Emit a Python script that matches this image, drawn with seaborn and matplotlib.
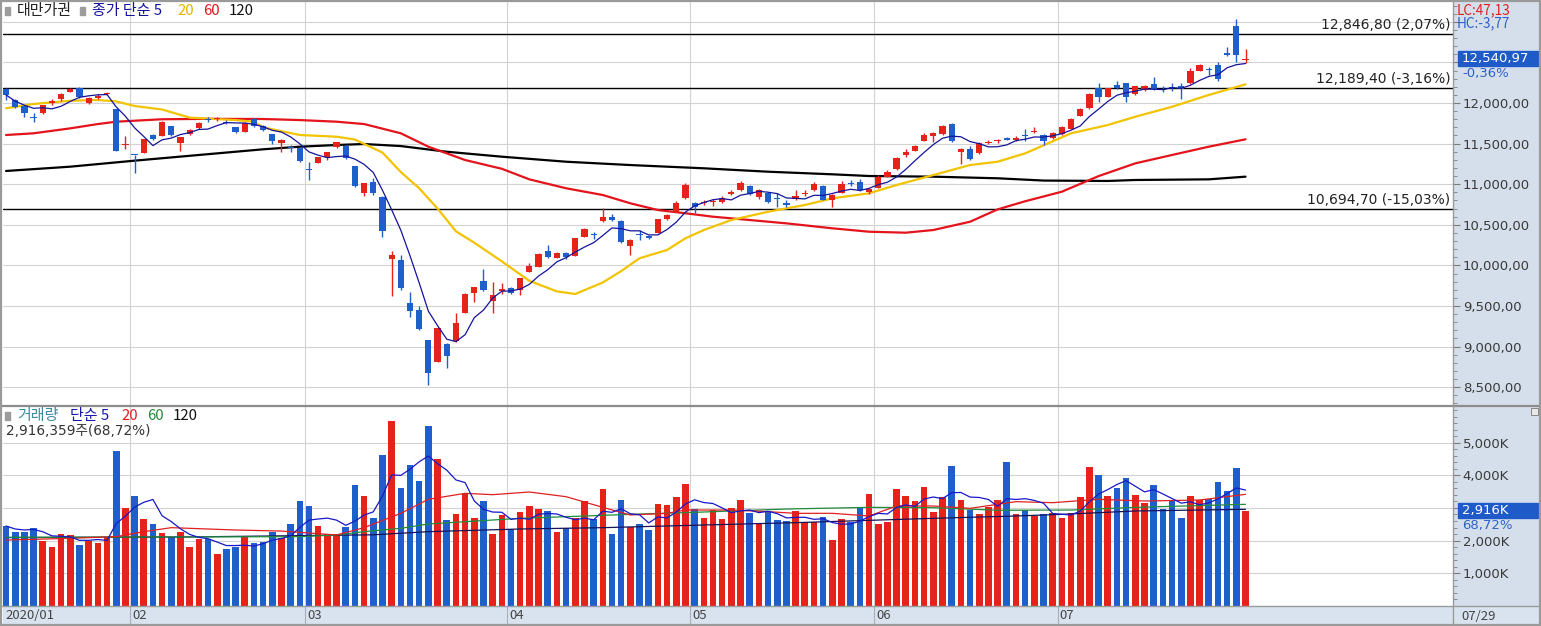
import numpy as np
import pandas as pd
import matplotlib
matplotlib.use("Agg")
import matplotlib.pyplot as plt
from matplotlib.patches import Rectangle
from matplotlib.ticker import MultipleLocator
from matplotlib.transforms import blended_transform_factory
import seaborn as sns

# ---------------- data ----------------
opens = [12169, 12037, 11963, 11830, 11881, 11996, 12046, 12139, 12181, 11996, 12058, 12107, 11926, 11480,
         11362, 11388, 11606, 11594, 11717, 11512, 11614, 11688, 11805, 11800, 11770, 11701, 11647, 11803, 11720,
         11614, 11504, 11460, 11450,
         11180, 11266, 11339, 11455, 11474, 11224, 10896, 11023, 10839, 10079, 10066, 9533, 9451, 9081, 8814,
         9032, 9073, 9418, 9664, 9812, 9566, 9690,
         9718, 9697, 9922, 9984, 10181, 10095, 10149, 10116, 10354, 10380, 10547, 10600, 10547, 10239, 10380,
         10366, 10403, 10568, 10662, 10826,
         10773, 10765, 10775, 10777, 10877, 10929, 10978, 10846, 10897, 10830, 10768, 10814, 10880, 10929, 10978,
         10805, 10897, 11020, 11031, 10900,
         10957, 11093, 11184, 11360, 11413, 11536, 11597, 11618, 11738, 11400, 11434, 11381, 11505, 11528, 11565,
         11544, 11600, 11645, 11606, 11565,
         11618, 11680, 11844, 11935, 12181, 12078, 12222, 12242, 12111, 12160, 12234, 12175, 12200, 12209, 12243,
         12399, 12420, 12468, 12619, 12948, 12530]
highs = [12181, 12050, 11975, 11881, 11980, 12045, 12120, 12185, 12195, 12075, 12110, 12140, 11930, 11594,
         11365, 11560, 11620, 11775, 11720, 11580, 11675, 11770, 11830, 11830, 11790, 11710, 11770, 11820, 11730,
         11620, 11560, 11480, 11460,
         11277, 11340, 11400, 11520, 11480, 11230, 11020, 11080, 10850, 10177, 10128, 9676, 9500, 9081, 9240,
         9040, 9410, 9660, 9740, 9952, 9799, 9780,
         9735, 9850, 10030, 10150, 10251, 10160, 10160, 10340, 10460, 10410, 10703, 10630, 10555, 10320, 10430,
         10375, 10575, 10630, 10790, 11010,
         10780, 10810, 10815, 10860, 10930, 11040, 10990, 10940, 10905, 10897, 10800, 10929, 10925, 11030, 10990,
         10880, 11040, 11050, 11060, 10955,
         11110, 11180, 11340, 11430, 11480, 11630, 11645, 11730, 11760, 11445, 11465, 11520, 11545, 11560, 11580,
         11590, 11676, 11700, 11615, 11640,
         11720, 11810, 11935, 12120, 12250, 12190, 12271, 12250, 12215, 12220, 12316, 12210, 12250, 12250, 12430,
         12480, 12440, 12500, 12694, 13031, 12661]
lows = [12037, 11940, 11824, 11770, 11870, 11975, 12030, 12130, 12060, 11990, 12050, 12095, 11405, 11430,
        11134, 11380, 11540, 11590, 11590, 11413, 11605, 11680, 11770, 11780, 11745, 11630, 11640, 11710, 11655,
        11500, 11400, 11400, 11270,
        11052, 11260, 11298, 11450, 11310, 10960, 10860, 10870, 10354, 9623, 9700, 9368, 9210, 8524, 8810,
        8740, 9060, 9410, 9553, 9690, 9410, 9650,
        9650, 9636, 9915, 9975, 10090, 10090, 10085, 10110, 10350, 10330, 10540, 10550, 10275, 10128, 10310,
        10325, 10395, 10560, 10655, 10820,
        10642, 10745, 10730, 10770, 10870, 10920, 10865, 10818, 10770, 10724, 10725, 10805, 10860, 10920, 10800,
        10716, 10890, 10980, 10920, 10880,
        10950, 11085, 11175, 11330, 11405, 11530, 11523, 11610, 11515, 11245, 11300, 11375, 11490, 11505, 11540,
        11535, 11536, 11630, 11483, 11555,
        11610, 11675, 11835, 11930, 12016, 12070, 12175, 12016, 12100, 12150, 12160, 12130, 12150, 12045, 12235,
        12390, 12350, 12270, 12585, 12509, 12489]
closes = [12099, 11947, 11873, 11820, 11972, 12028, 12107, 12172, 12070, 12066, 12090, 12122, 11413, 11495,
          11356, 11553, 11560, 11770, 11600, 11576, 11667, 11758, 11795, 11815, 11758, 11648, 11750, 11717, 11667,
          11534, 11544, 11450, 11292,
          11170, 11331, 11393, 11516, 11327, 10977, 11011, 10890, 10422, 10128, 9717, 9439, 9218, 8681, 9234,
          8890, 9285, 9644, 9731, 9698, 9631, 9708,
          9663, 9841, 9993, 10140, 10100, 10149, 10098, 10334, 10448, 10370, 10592, 10565, 10290, 10313, 10370,
          10340, 10568, 10621, 10765, 10990,
          10720, 10780, 10790, 10835, 10908, 11011, 10880, 10929, 10780, 10820, 10745, 10855, 10895, 11003, 10810,
          10867, 11003, 11005, 10930, 10941,
          11093, 11154, 11327, 11400, 11474, 11606, 11634, 11717, 11530, 11434, 11310, 11504, 11520, 11540, 11547,
          11573, 11590, 11660, 11530, 11627,
          11708, 11803, 11922, 12111, 12080, 12181, 12185, 12075, 12209, 12209, 12170, 12165, 12190, 12170, 12399,
          12468, 12410, 12300, 12595, 12586, 12540.97]
volumes_k = [2446, 2262, 2262, 2395, 1985, 1810, 2200, 2170, 1862, 1985, 1933, 2067, 4754, 3010,
             3369, 2672, 2508, 2241, 2118, 2262, 1810, 2046, 2046, 1585, 1738, 1810, 2098, 1913, 1954,
             2272, 2067, 2508, 3226,
             3062, 2446, 2200, 2200, 2426, 3708, 3369, 2703, 4631, 5687, 3626, 4323, 3841, 5523, 4508,
             2631, 2815, 3431, 2703, 3226, 2200, 2785,
             2344, 2877, 3062, 2969, 2908, 2262, 2375, 2682, 3215, 2652, 3585, 2200, 3246, 2426, 2508,
             2323, 3123, 3092, 3338, 3738,
             2969, 2703, 2938, 2662, 3000, 3246, 2846, 2529, 2877, 2631, 2600, 2908, 2559, 2559, 2723,
             2015, 2662, 2579, 2990, 3431,
             2508, 2579, 3585, 3369, 3215, 3646, 2877, 3328, 4292, 3246, 2938, 2815, 3020, 3246, 4415,
             2815, 2938, 2754, 2815, 2836,
             2692, 2836, 3338, 4271, 4015, 3369, 3626, 3923, 3400, 3164, 3708, 2969, 3215, 2692, 3369,
             3246, 3277, 3800, 3533, 4231, 2916]

# moving averages (candle index, value)
ma20_idx = [0, 3, 7, 10, 12, 14, 17, 20, 25, 27, 28, 32, 36, 38, 41, 43, 45, 47, 49, 51, 54, 57, 60, 62, 65, 67,
            69, 72, 74, 76, 79, 83, 87, 90, 94, 97, 101, 105, 108, 111, 116, 120, 123, 127, 131, 135]
ma20_val = [11935, 11988, 12028, 12037, 12020, 11963, 11920, 11820, 11790, 11770, 11700, 11606, 11585, 11550,
            11390, 11150, 10950, 10700, 10420, 10280, 10050, 9810, 9680, 9648, 9790, 9930, 10088, 10190, 10334,
            10436, 10559, 10661, 10744, 10826, 10888, 10990, 11113, 11236, 11277, 11380, 11627, 11729, 11831,
            11954, 12099, 12230]
ma60_idx = [0, 3, 7, 10, 12, 17, 22, 28, 32, 36, 39, 43, 46, 50, 54, 57, 61, 65, 68, 71, 74, 77, 81, 85, 90, 94,
            98, 101, 105, 108, 111, 115, 119, 123, 127, 131, 135]
ma60_val = [11606, 11627, 11688, 11741, 11770, 11800, 11805, 11803, 11790, 11770, 11741, 11627, 11462, 11298,
            11190, 11060, 10950, 10867, 10765, 10682, 10642, 10600, 10559, 10518, 10457, 10415, 10403, 10436,
            10538, 10690, 10790, 10908, 11100, 11257, 11360, 11462, 11553]
ma120_idx = [0, 7, 14, 21, 28, 32, 36, 39, 43, 48, 54, 61, 68, 76, 83, 90, 94, 101, 108, 113, 120, 123, 131, 135]
ma120_val = [11163, 11216, 11290, 11360, 11430, 11462, 11483, 11495, 11470, 11400, 11339, 11277, 11236, 11196,
             11154, 11122, 11101, 11093, 11073, 11045, 11040, 11052, 11060, 11093]

vma20_idx = [0, 7, 12, 15, 18, 25, 30, 36, 39, 43, 46, 50, 53, 57, 61, 65, 68, 72, 74, 79, 83, 86, 90, 94, 97,
             101, 105, 110, 114, 119, 124, 130, 135]
vma20_val = [2015, 2067, 2118, 2272, 2395, 2323, 2290, 2170, 2395, 2836, 3267, 3451, 3410, 3492, 3348, 3020,
             2785, 2836, 2938, 2938, 2887, 2836, 2836, 2754, 3062, 3062, 2990, 3195, 3164, 3267, 3215, 3246, 3420]
vma60_idx = [0, 32, 36, 39, 43, 46, 50, 56, 61, 68, 76, 85, 94, 101, 108, 116, 123, 135]
vma60_val = [2098, 2118, 2170, 2272, 2375, 2508, 2579, 2682, 2733, 2805, 2877, 2969, 3020, 3010, 2930, 2938,
             3020, 3113]
vma120_idx = [0, 20, 32, 40, 46, 56, 65, 76, 86, 94, 101, 110, 115, 123, 135]
vma120_val = [2090, 2110, 2150, 2175, 2272, 2354, 2395, 2477, 2549, 2620, 2682, 2754, 2805, 2908, 2960]

month_labels = ["2020/01", "02", "03", "04", "05", "06", "07"]
month_start = [0, 14, 33, 55, 75, 95, 115]

hlines = [12846.80, 12189.40, 10694.70]
hline_labels = ["12,846,80 (2,07%)", "12,189,40 (-3,16%)", "10,694,70 (-15,03%)"]
price_ticks = [8500, 9000, 9500, 10000, 10500, 11000, 11500, 12000, 12500, 13000]
price_hidden = [12500, 13000]          # labels covered by boxes in the reference
vol_ticks = [1000, 2000, 3000, 4000, 5000]
vol_hidden = [3000]

# ---------------- style ----------------
RED = '#e5231b'
BLUE = '#1f5fcb'
GRID = '#d2d2d2'
PANEL = '#d5dfeb'
DATEBG = '#d9e3ef'
BORDER = '#9a9a9a'
TXT = '#3a3a3a'
NUMFONT = ['DejaVu Sans', 'Noto Sans CJK KR']
LEG = 10.8

sns.set_theme(style="white")
plt.rcParams['font.family'] = ['Noto Sans CJK KR', 'DejaVu Sans']
plt.rcParams['axes.unicode_minus'] = False

W, H = 1541, 626
fig = plt.figure(figsize=(W / 100, H / 100), dpi=100, facecolor='white')


def add_ax(x0, y0, x1, y1):
    return fig.add_axes([x0 / W, 1 - y1 / H, (x1 - x0) / W, (y1 - y0) / H])


def ftext(x, y, s, **kw):
    kw.setdefault('va', 'center')
    kw.setdefault('ha', 'left')
    return fig.text(x / W, 1 - y / H, s, **kw)


def frect(x0, y0, x1, y1, **kw):
    r = Rectangle((x0 / W, 1 - y1 / H), (x1 - x0) / W, (y1 - y0) / H, transform=fig.transFigure, **kw)
    fig.add_artist(r)
    return r


def fline(x0, y0, x1, y1, **kw):
    fig.add_artist(plt.Line2D([x0 / W, x1 / W], [1 - y0 / H, 1 - y1 / H], transform=fig.transFigure, **kw))


n = len(closes)
idx = np.arange(n)
o = np.array(opens, float)
c = np.array(closes, float)
hi = np.array(highs, float)
lo = np.array(lows, float)
up = c >= o
cols = np.where(up, RED, BLUE)
XMIN, XMAX = -0.33, 157.6
month_pos = [m - 0.45 for m in month_start]

# background panels
bg = add_ax(1453, 2, 1540, 606)
bg.set_facecolor(PANEL)
bg.set_xticks([]); bg.set_yticks([])
for s in bg.spines.values():
    s.set_visible(False)
bg.set_zorder(-5)

# ---------------- price panel ----------------
axp = add_ax(3, 2, 1453, 405)
axp.set_facecolor('white')
axp.set_xlim(XMIN, XMAX)
axp.set_ylim(8281, 13244)
for s in axp.spines.values():
    s.set_visible(False)
axp.yaxis.tick_right()
axp.set_yticks(price_ticks)
axp.set_yticklabels(['' if t in price_hidden else f"{t:,},00" for t in price_ticks], family=NUMFONT)
axp.yaxis.set_minor_locator(MultipleLocator(100))
axp.tick_params(axis='y', which='major', direction='out', length=5, width=0.8, color='#7a7a7a',
                labelsize=9.5, labelcolor=TXT, pad=2, left=False, right=True)
axp.tick_params(axis='y', which='minor', direction='out', length=3, width=0.7, color='#8a8a8a',
                left=False, right=True)
axp.set_xticks([])
axp.grid(axis='y', which='major', color=GRID, lw=0.8)
for mp in month_pos[1:]:
    axp.axvline(mp, color=GRID, lw=0.8, zorder=1)
for v, lab in zip(hlines, hline_labels):
    axp.axhline(v, color='black', lw=1.0, zorder=2)
    axp.annotate(lab, xy=(1, v), xycoords=('axes fraction', 'data'), xytext=(-2, 1.5),
                 textcoords='offset points', ha='right', va='bottom', fontsize=10, color='#222222',
                 family=NUMFONT)

# moving averages
ma5 = pd.Series(c).rolling(5, min_periods=1).mean()
sns.lineplot(x=ma120_idx, y=ma120_val, ax=axp, color='black', lw=1.6, zorder=3)
sns.lineplot(x=ma60_idx, y=ma60_val, ax=axp, color='#e3141c', lw=1.6, zorder=3)
sns.lineplot(x=ma20_idx, y=ma20_val, ax=axp, color='#f2c300', lw=1.6, zorder=3)

# candles
axp.vlines(idx, lo, hi, colors=cols, lw=1.0, zorder=4)
axp.bar(idx, np.maximum(np.abs(c - o), 12), bottom=np.minimum(o, c), width=0.68, color=cols,
        linewidth=0, zorder=5)
sns.lineplot(x=idx, y=ma5.values, ax=axp, color='#14149a', lw=0.9, zorder=6)
axp.set_xlim(XMIN, XMAX)
axp.set_xlabel(''); axp.set_ylabel('')

# ---------------- volume panel ----------------
axv = add_ax(3, 406, 1453, 606)
axv.set_facecolor('white')
vol_df = pd.DataFrame({'i': idx, 'vol': volumes_k, 'dir': np.where(up, 'up', 'down')})
sns.barplot(data=vol_df, x='i', y='vol', hue='dir', palette={'up': RED, 'down': BLUE}, native_scale=True,
            dodge=False, width=0.72, saturation=1, errorbar=None, legend=False, ax=axv, linewidth=0, zorder=3)
vma5 = pd.Series(volumes_k, dtype=float).rolling(5, min_periods=1).mean()
sns.lineplot(x=vma120_idx, y=vma120_val, ax=axv, color='#14145a', lw=0.9, zorder=4)
sns.lineplot(x=vma60_idx, y=vma60_val, ax=axv, color='#208c3c', lw=0.9, zorder=4)
sns.lineplot(x=vma20_idx, y=vma20_val, ax=axv, color='#e02020', lw=0.9, zorder=4)
sns.lineplot(x=idx, y=vma5.values, ax=axv, color='#1818c8', lw=0.9, zorder=5)
axv.set_xlim(XMIN, XMAX)
axv.set_ylim(-15, 6138)
for s in axv.spines.values():
    s.set_visible(False)
axv.yaxis.tick_right()
axv.set_yticks(vol_ticks)
axv.set_yticklabels(['' if t in vol_hidden else f"{t:,}K" for t in vol_ticks], family=NUMFONT)
axv.yaxis.set_minor_locator(MultipleLocator(200))
axv.tick_params(axis='y', which='major', direction='out', length=5, width=0.8, color='#7a7a7a',
                labelsize=9.5, labelcolor=TXT, pad=2, left=False, right=True)
axv.tick_params(axis='y', which='minor', direction='out', length=3, width=0.7, color='#8a8a8a',
                left=False, right=True)
axv.set_xticks([])
axv.set_xlabel(''); axv.set_ylabel('')
axv.grid(axis='y', which='major', color=GRID, lw=0.8)
axv.set_axisbelow(True)
for mp in month_pos[1:]:
    axv.axvline(mp, color=GRID, lw=0.8, zorder=1)

# ---------------- date strip ----------------
ds = add_ax(3, 606, 1453, 625)
ds.set_facecolor(DATEBG)
ds.set_xlim(XMIN, XMAX); ds.set_ylim(0, 1)
ds.set_xticks([]); ds.set_yticks([])
for s in ds.spines.values():
    s.set_visible(False)
for mp in month_pos[1:]:
    ds.axvline(mp, color='#a8b0bb', lw=0.8)
trd = blended_transform_factory(ds.transData, ds.transAxes)
for k, (mp, lab) in enumerate(zip(month_pos, month_labels)):
    xx = XMIN if k == 0 else mp
    ds.annotate(lab, xy=(xx, 0.5), xycoords=trd, xytext=(1.5, 0), textcoords='offset points',
                ha='left', va='center', fontsize=9.5, color='#444444')
dr = add_ax(1453, 606, 1540, 625)
dr.set_facecolor(DATEBG)
dr.set_xticks([]); dr.set_yticks([])
for s in dr.spines.values():
    s.set_visible(False)
ftext(1461, 616, "07/29", fontsize=9.5, color='#444444')

# ---------------- texts / legends ----------------
frect(5, 7, 9.5, 15, color='#9c9c9c', zorder=8)
ftext(17, 11, "대만가권", fontsize=LEG, color='#222222')
frect(80, 7, 84.5, 15, color='#9c9c9c', zorder=8)
ftext(92, 11, "종가 단순 5", fontsize=LEG, color='#14149a')
ftext(177, 11, "20", fontsize=LEG, color='#e6b400')
ftext(203, 11, "60", fontsize=LEG, color='#e3141c')
ftext(229, 11, "120", fontsize=LEG, color='#111111')

frect(5, 412, 9.5, 420, color='#9c9c9c', zorder=8)
ftext(17, 416, "거래량", fontsize=LEG, color='#3a8c9c')
ftext(70, 416, "단순 5", fontsize=LEG, color='#1818b0')
ftext(121, 416, "20", fontsize=LEG, color='#e02020')
ftext(147, 416, "60", fontsize=LEG, color='#208c3c')
ftext(173, 416, "120", fontsize=LEG, color='#111111')
ftext(6, 431, "2,916,359주(68,72%)", fontsize=9.8, color='#333333', family=NUMFONT)

# right panel annotations
ftext(1457, 10, "LC:47,13", fontsize=9.8, color='#e02020')
ftext(1457, 23, "HC:-3,77", fontsize=9.8, color='#2f62c8')
frect(1458, 51, 1538, 66, color='#1f5bc8', zorder=9)
ftext(1462, 58.5, "12,540,97", fontsize=9.5, color='white', zorder=10, family=NUMFONT)
ftext(1462, 73, "-0,36%", fontsize=9.5, color='#2f62c8', family=NUMFONT)
frect(1458, 503, 1538, 518, color='#1f5bc8', zorder=9)
ftext(1462, 510.5, "2,916K", fontsize=9.5, color='white', zorder=10, family=NUMFONT)
ftext(1462, 526, "68,72%", fontsize=9.5, color='#2f62c8', family=NUMFONT)
frect(1531, 408, 1538, 415, facecolor='#e8e8e8', edgecolor='#777777', lw=0.6, zorder=9)
ftext(1534.5, 411.5, "×", fontsize=6, color='#333333', ha='center')

# borders / separators
fline(0, 405.5, W, 405.5, color='#8c8c8c', lw=1.6)
fline(0, 606, W, 606, color='#9a9a9a', lw=1.0)
fline(1453, 2, 1453, H, color='#9a9a9a', lw=1.0)
frect(0.8, 0.8, W - 0.8, H - 0.8, fill=False, edgecolor=BORDER, lw=1.6, zorder=20)

fig.savefig("out.png", dpi=100, facecolor='white')
